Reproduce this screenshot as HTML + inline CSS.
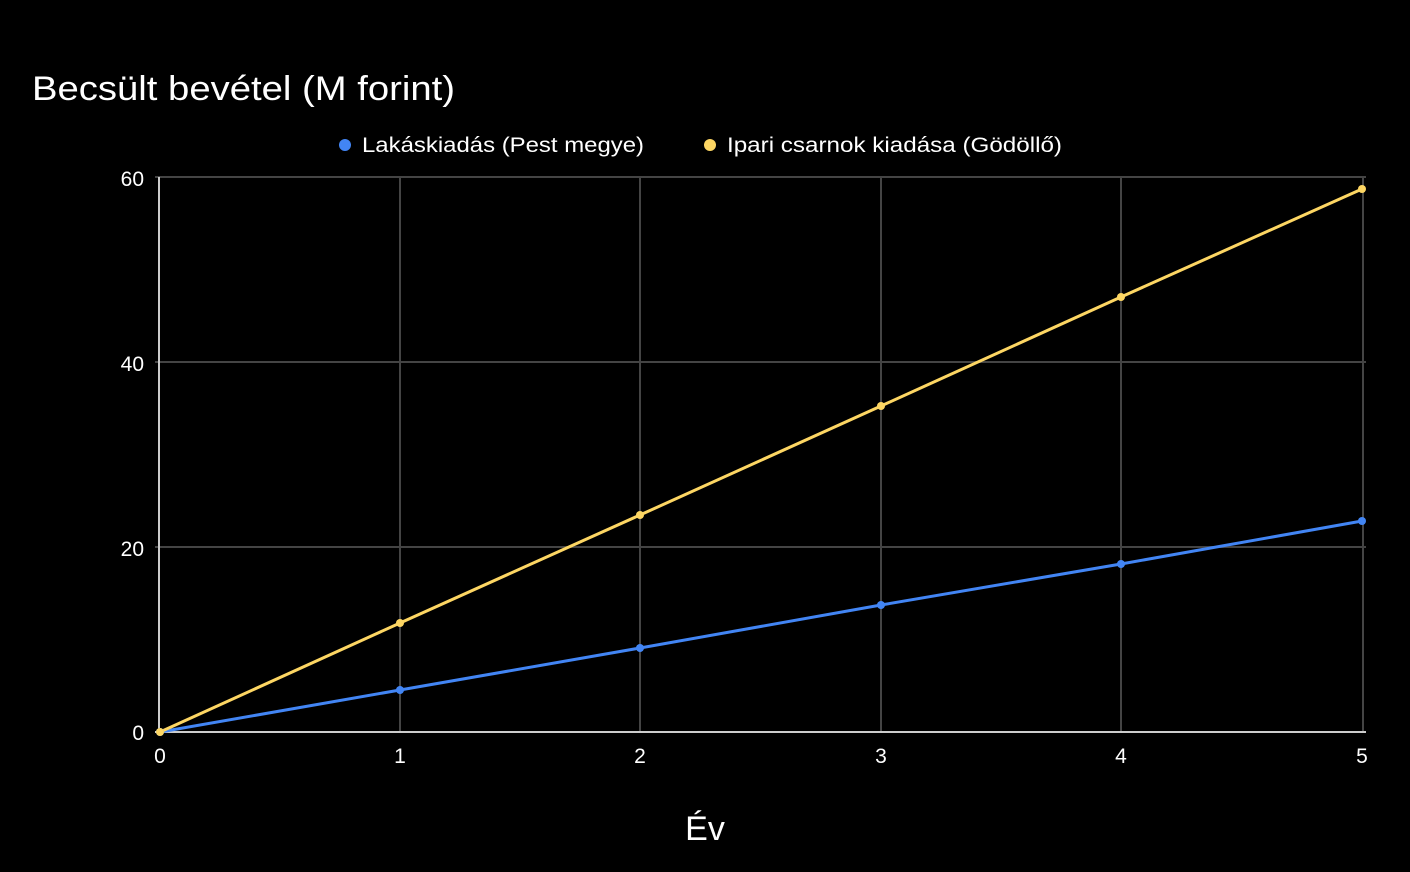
<!DOCTYPE html>
<html><head><meta charset="utf-8"><style>
html,body{margin:0;padding:0;background:#000;}
svg{display:block;font-family:"Liberation Sans",sans-serif;}
</style></head><body>
<svg width="1410" height="872" viewBox="0 0 1410 872">
<rect width="1410" height="872" fill="#000"/>
<text x="32" y="100" fill="#fff" font-size="34" textLength="423" lengthAdjust="spacingAndGlyphs">Becsült bevétel (M forint)</text>
<circle cx="345" cy="145" r="6" fill="#4285f4"/>
<text x="362" y="152" fill="#fff" font-size="21" textLength="282" lengthAdjust="spacingAndGlyphs">Lakáskiadás (Pest megye)</text>
<circle cx="710" cy="145" r="6" fill="#fdd663"/>
<text x="727" y="152" fill="#fff" font-size="21" textLength="335" lengthAdjust="spacingAndGlyphs">Ipari csarnok kiadása (Gödöllő)</text>
<g stroke="#444" stroke-width="2">
<line x1="155" y1="177" x2="1366" y2="177"/>
<line x1="155" y1="362" x2="1366" y2="362"/>
<line x1="155" y1="547" x2="1366" y2="547"/>
<line x1="400" y1="177" x2="400" y2="732"/>
<line x1="640" y1="177" x2="640" y2="732"/>
<line x1="881" y1="177" x2="881" y2="732"/>
<line x1="1121" y1="177" x2="1121" y2="732"/>
<line x1="1363" y1="177" x2="1363" y2="732"/>
</g>
<line x1="159" y1="177" x2="159" y2="733" stroke="#ccc" stroke-width="2"/>
<line x1="155" y1="732" x2="1366" y2="732" stroke="#ccc" stroke-width="2"/>
<g fill="#fff" font-size="21" text-anchor="end">
<text x="144" y="186">60</text><text x="144" y="371">40</text><text x="144" y="556">20</text><text x="144" y="740">0</text>
</g>
<g fill="#fff" font-size="21" text-anchor="middle">
<text x="160" y="763">0</text><text x="400" y="763">1</text><text x="640" y="763">2</text><text x="881" y="763">3</text><text x="1121" y="763">4</text><text x="1362" y="763">5</text>
</g>
<text x="705" y="840" fill="#fff" font-size="34" text-anchor="middle">Év</text>
<polyline fill="none" stroke="#4285f4" stroke-width="3" points="160,732 400,690 640,648 881,605 1121,564 1362,521"/>
<polyline fill="none" stroke="#fdd663" stroke-width="3" points="160,732 400,623 640,515 881,406 1121,297 1362,189"/>
<g fill="#4285f4"><circle cx="160" cy="732" r="4"/><circle cx="400" cy="690" r="4"/><circle cx="640" cy="648" r="4"/><circle cx="881" cy="605" r="4"/><circle cx="1121" cy="564" r="4"/><circle cx="1362" cy="521" r="4"/></g>
<g fill="#fdd663"><circle cx="160" cy="732" r="4"/><circle cx="400" cy="623" r="4"/><circle cx="640" cy="515" r="4"/><circle cx="881" cy="406" r="4"/><circle cx="1121" cy="297" r="4"/><circle cx="1362" cy="189" r="4"/></g>
</svg>
</body></html>
